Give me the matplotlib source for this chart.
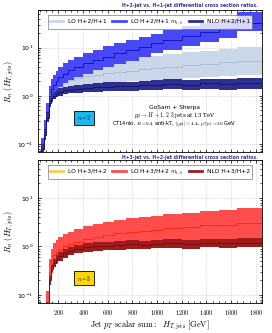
import numpy as np
import matplotlib
matplotlib.use("Agg")
import matplotlib.pyplot as plt
from matplotlib.lines import Line2D
from matplotlib.ticker import FuncFormatter, MultipleLocator, LogLocator

plt.rcParams['mathtext.fontset'] = 'cm'
plt.rcParams['font.family'] = 'DejaVu Sans'

# bin edges (GeV)
edges_2 = [60, 80, 100, 120, 140, 160, 180, 200, 240, 280, 330, 400, 480, 560,
           650, 750, 850, 950, 1050, 1200, 1350, 1500, 1650, 1850]
edges_3 = edges_2[2:]

# H+2/H+1 ratios
lo21_c  = [0.08, 0.2, 0.45, 0.9, 1.2, 1.4, 1.55, 1.75, 1.95, 2.15, 2.35, 2.55, 2.75, 2.95, 3.15, 3.35, 3.55, 3.75, 4.0, 4.3, 4.6, 5.0, 5.4]
lo21_lo = [0.05, 0.13, 0.3, 0.62, 0.82, 0.95, 1.05, 1.15, 1.3, 1.4, 1.5, 1.6, 1.7, 1.8, 1.9, 2.0, 2.05, 2.15, 2.25, 2.35, 2.45, 2.6, 2.7]
lo21_hi = [0.12, 0.3, 0.7, 1.4, 1.8, 2.1, 2.4, 2.7, 3.1, 3.4, 3.8, 4.2, 4.6, 5.0, 5.4, 5.9, 6.3, 6.8, 7.3, 8.0, 8.7, 9.4, 10.2]

mtb21_c  = [0.08, 0.2, 0.45, 1.0, 1.4, 1.7, 2.0, 2.4, 2.9, 3.4, 4.0, 4.8, 5.6, 6.5, 7.6, 8.8, 10.3, 12.3, 14.5, 17.5, 21, 25, 33]
mtb21_lo = [0.05, 0.12, 0.28, 0.62, 0.87, 1.05, 1.25, 1.5, 1.8, 2.1, 2.45, 2.9, 3.4, 3.95, 4.6, 5.4, 6.3, 7.6, 9.0, 10.8, 13, 15.5, 22]
mtb21_hi = [0.13, 0.32, 0.72, 1.6, 2.25, 2.75, 3.2, 3.9, 4.7, 5.5, 6.5, 7.8, 9.1, 10.6, 12.3, 14.2, 16.5, 19.5, 23, 27.5, 33, 39, 55]

nlo21_c  = [0.08, 0.15, 0.35, 0.7, 0.9, 1.0, 1.1, 1.2, 1.3, 1.35, 1.4, 1.45, 1.5, 1.55, 1.6, 1.58, 1.65, 1.7, 1.75, 1.68, 1.8, 1.72, 1.82]
nlo21_lo = [0.06, 0.12, 0.28, 0.58, 0.76, 0.85, 0.93, 1.0, 1.08, 1.12, 1.15, 1.18, 1.22, 1.25, 1.28, 1.25, 1.3, 1.33, 1.36, 1.3, 1.38, 1.32, 1.4]
nlo21_hi = [0.1, 0.19, 0.43, 0.84, 1.07, 1.18, 1.3, 1.42, 1.55, 1.62, 1.68, 1.75, 1.82, 1.9, 1.97, 1.95, 2.05, 2.12, 2.2, 2.12, 2.28, 2.2, 2.35]

# H+3/H+2 ratios
lo32_c  = [0.06, 0.25, 0.4, 0.5, 0.6, 0.7, 0.8, 0.9, 1.0, 1.05, 1.1, 1.15, 1.2, 1.25, 1.3, 1.3, 1.35, 1.35, 1.4, 1.4, 1.45]
lo32_lo = [0.04, 0.18, 0.29, 0.37, 0.45, 0.52, 0.6, 0.67, 0.74, 0.78, 0.81, 0.85, 0.88, 0.92, 0.95, 0.95, 0.98, 0.98, 1.0, 1.0, 1.03]
lo32_hi = [0.08, 0.34, 0.55, 0.68, 0.81, 0.95, 1.08, 1.22, 1.36, 1.43, 1.5, 1.57, 1.64, 1.72, 1.8, 1.8, 1.87, 1.87, 1.95, 1.95, 2.0]

mtb32_c  = [0.07, 0.3, 0.5, 0.65, 0.75, 0.85, 1.0, 1.1, 1.25, 1.4, 1.55, 1.7, 1.85, 2.0, 2.1, 2.2, 2.35, 2.5, 2.7, 2.8, 3.0]
mtb32_lo = [0.04, 0.17, 0.28, 0.37, 0.43, 0.5, 0.58, 0.65, 0.74, 0.83, 0.92, 1.0, 1.08, 1.15, 1.2, 1.25, 1.3, 1.35, 1.4, 1.45, 1.5]
mtb32_hi = [0.12, 0.55, 0.9, 1.15, 1.35, 1.55, 1.8, 2.0, 2.3, 2.6, 2.9, 3.2, 3.5, 3.8, 4.1, 4.3, 4.6, 5.0, 5.4, 5.7, 6.1]

nlo32_c  = [0.05, 0.2, 0.35, 0.45, 0.55, 0.62, 0.72, 0.8, 0.88, 0.95, 1.0, 1.02, 1.05, 1.1, 1.08, 1.12, 1.15, 1.12, 1.18, 1.15, 1.2]
nlo32_lo = [0.04, 0.16, 0.29, 0.37, 0.45, 0.51, 0.59, 0.66, 0.72, 0.78, 0.82, 0.84, 0.86, 0.9, 0.88, 0.91, 0.94, 0.9, 0.95, 0.92, 0.96]
nlo32_hi = [0.07, 0.25, 0.42, 0.54, 0.66, 0.75, 0.87, 0.97, 1.07, 1.15, 1.22, 1.25, 1.28, 1.34, 1.32, 1.37, 1.4, 1.38, 1.45, 1.42, 1.5]

fig = plt.figure(figsize=(2.72, 3.33), dpi=100)
ax1 = fig.add_axes([0.140, 0.5435, 0.823, 0.426])
ax2 = fig.add_axes([0.140, 0.090, 0.823, 0.429])


def draw(ax, edges, series):
    for c, lo, hi, band, line in series:
        ax.stairs(hi, edges, baseline=lo, fill=True, color=band, lw=0)
        ax.stairs(c, edges, color=line, lw=0.7)


draw(ax1, edges_2, [
    (lo21_c, lo21_lo, lo21_hi, '#c9d7e8', '#a9bedb'),
    (mtb21_c, mtb21_lo, mtb21_hi, '#4848f4', '#1414c8'),
    (nlo21_c, nlo21_lo, nlo21_hi, '#2f2f92', '#15156a'),
])
draw(ax2, edges_3, [
    (lo32_c, lo32_lo, lo32_hi, '#ffc95a', '#ffa020'),
    (mtb32_c, mtb32_lo, mtb32_hi, '#ff4c4c', '#ff2a10'),
    (nlo32_c, nlo32_lo, nlo32_hi, '#9e1c1c', '#7a0c0c'),
])

legend_sets = [
    (ax1, ['LO H+2/H+1', r'LO H+2/H+1 $m_{t,b}$', 'NLO H+2/H+1'],
     ['#c9d7e8', '#4848f4', '#2f2f92']),
    (ax2, ['LO H+3/H+2', r'LO H+3/H+2 $m_{t,b}$', 'NLO H+3/H+2'],
     ['#ffc95a', '#ff4c4c', '#9e1c1c']),
]

for ax, labels, cols in legend_sets:
    ax.set_yscale('log')
    ax.set_xlim(35, 1850)
    ax.set_ylim(0.068, 60)
    ax.xaxis.set_major_locator(MultipleLocator(200))
    ax.xaxis.set_minor_locator(MultipleLocator(50))
    ax.yaxis.set_major_locator(LogLocator(base=10, numticks=10))
    ax.yaxis.set_minor_locator(LogLocator(base=10, subs=np.arange(2, 10), numticks=20))
    ax.tick_params(which='both', direction='in', top=True, right=True, labelsize=4.5, width=0.5)
    ax.tick_params(which='major', length=2.5)
    ax.tick_params(which='minor', length=1.3)
    ax.grid(True, which='major', ls=':', color='#bbbbbb', lw=0.5)
    ax.set_axisbelow(True)
    for s in ax.spines.values():
        s.set_linewidth(0.6)
    ax.set_ylabel(r'$R_n\ (H_{T,\rm jets})$', fontsize=6, labelpad=1)
    handles = [Line2D([], [], color=c, lw=2) for c in cols]
    leg = ax.legend(handles, labels, loc='upper left', ncol=3, mode='expand',
                    bbox_to_anchor=(0.03, 0.985, 0.94, 0), fontsize=4.3,
                    fancybox=False, edgecolor='#555555', handlelength=2.2,
                    borderpad=0.35, columnspacing=1.0, handletextpad=0.8)
    leg.get_frame().set_linewidth(0.5)

ax1.xaxis.set_major_formatter(FuncFormatter(lambda v, p: ''))
ax2.xaxis.set_major_formatter(FuncFormatter(lambda v, p: f'${v:.0f}$'))
ax2.set_xlabel(r'$\mathrm{Jet}\ p_T\ \mathrm{scalar\ sum:}\ \ H_{T,\mathrm{jets}}\ [\mathrm{GeV}]$',
               fontsize=6, labelpad=1)

fig.text(0.948, 0.982, 'H+2-jet vs. H+1-jet differential cross section ratios.',
         ha='right', va='center', fontsize=3.3, fontweight='bold', color='#333399')
fig.text(0.948, 0.5285, 'H+3-jet vs. H+2-jet differential cross section ratios.',
         ha='right', va='center', fontsize=3.3, fontweight='bold', color='#333399')

ax1.text(0.61, 0.315, 'GoSam + Sherpa', transform=ax1.transAxes, ha='center', va='center', fontsize=4.2)
ax1.text(0.61, 0.258, r'$pp \to H\ + 1,2,3$ jets at 13 TeV', transform=ax1.transAxes,
         ha='center', va='center', fontsize=4.0, family='serif')
ax1.text(0.61, 0.198, r'CT14nlo, $R = 0.4$ anti-kT, $|\eta_{\rm jet}| < 4.4$, $p_{T,\rm jet} = 30$ GeV',
         transform=ax1.transAxes, ha='center', va='center', fontsize=3.7)

ax1.text(0.205, 0.24, r'$n=2$', transform=ax1.transAxes, ha='center', va='center', fontsize=4,
         bbox=dict(boxstyle='square,pad=0.5', fc='#1ab8f0', ec='black', lw=0.6))
ax2.text(0.205, 0.175, r'$n=3$', transform=ax2.transAxes, ha='center', va='center', fontsize=4,
         bbox=dict(boxstyle='square,pad=0.5', fc='#ffd700', ec='black', lw=0.6))

fig.savefig('out.png', dpi=100)
